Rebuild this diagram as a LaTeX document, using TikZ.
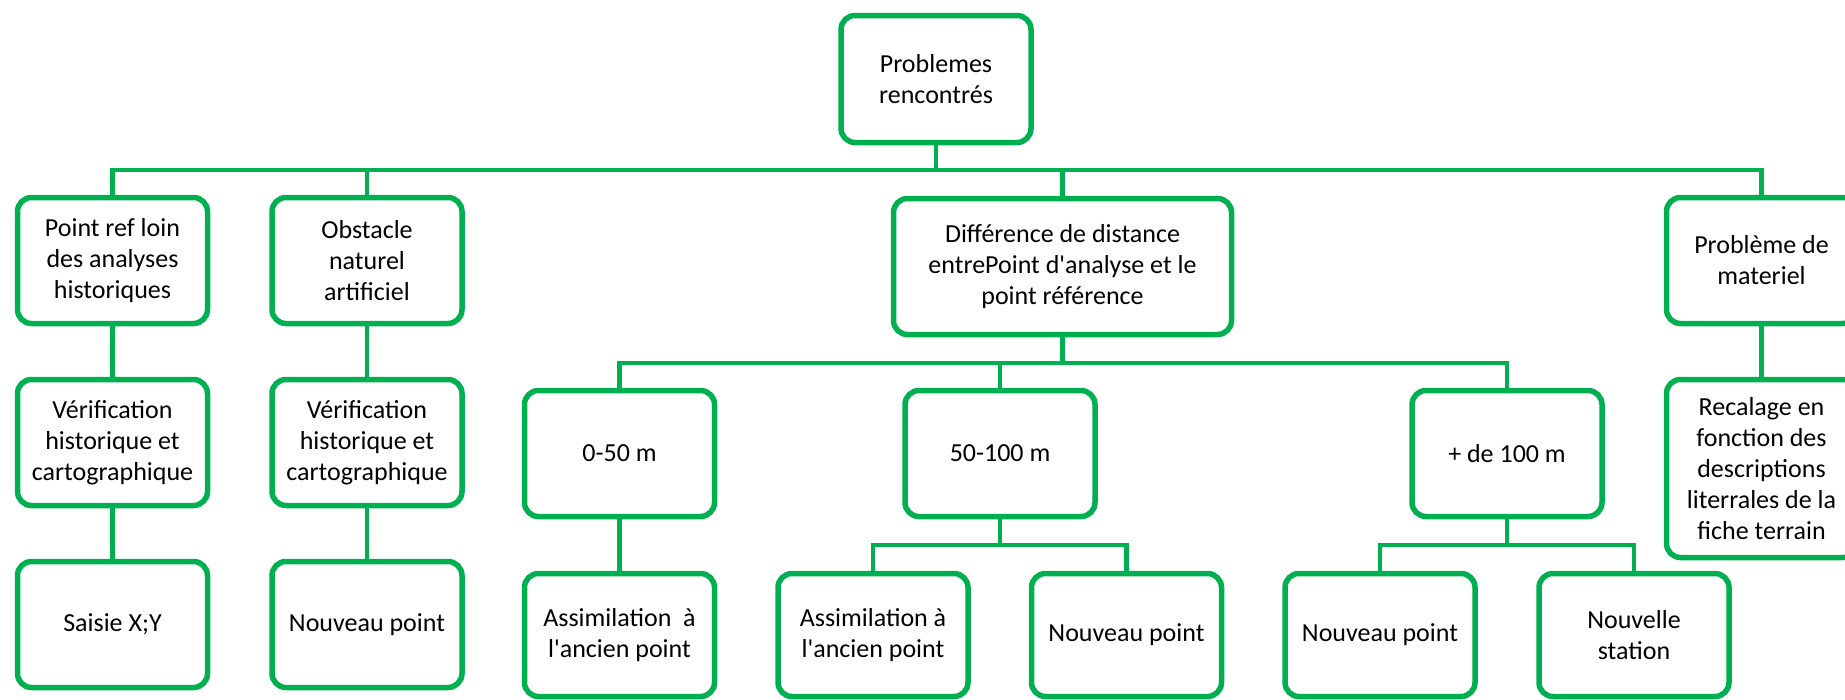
\documentclass[tikz,border=0pt]{standalone}
\usepackage{fontspec}
\setmainfont{Carlito}[Ligatures=TeXOff]
\definecolor{vert}{HTML}{00B050}
\tikzset{boite/.style={draw=vert, line width=5.5pt, rounded corners=14pt,
    minimum width=190pt, minimum height=126pt, align=center, inner sep=2pt,
    font=\fontsize{26}{31}\selectfont},
  lien/.style={vert, line width=4.5pt}}
\begin{document}
\begin{tikzpicture}[x=1pt, y=-1pt]
\useasboundingbox (0,0) rectangle (1845,699);

\node[boite, minimum height=127pt] (prob) at (936,79) {Problemes\\rencontrés};

\node[boite] (ref) at (112.5,260.5) {Point ref loin\\des analyses\\historiques};
\node[boite] (obst) at (367,260.5) {Obstacle\\naturel\\artificiel};
\node[boite, minimum width=338pt, minimum height=136pt] (diff) at (1062.5,266.5) {Différence de distance\\entrePoint d'analyse et le\\point référence};
\node[boite] (mat) at (1761.5,260.5) {Problème de\\materiel};

\node[boite] (verifA) at (112.5,442.5) {Vérification\\historique et\\cartographique};
\node[boite] (verifB) at (367,442.5) {Vérification\\historique et\\cartographique};
\node[boite] (saisie) at (112.5,624.5) {Saisie X;Y};
\node[boite] (nouvA) at (367,624.5) {Nouveau point};

\node[boite] (d050) at (619.5,453.5) {0-50 m};
\node[boite] (d50100) at (1000,453.5) {50-100 m};
\node[boite] (d100) at (1507,453.5) {+ de 100 m};

\node[boite, minimum height=123pt] (assimA) at (619.5,635) {Assimilation\ \ à\\l'ancien point};
\node[boite, minimum height=123pt] (assimB) at (873,635) {Assimilation à\\l'ancien point};
\node[boite, minimum height=123pt] (nouvB) at (1126.5,635) {Nouveau point};
\node[boite, minimum height=123pt] (nouvC) at (1380,635) {Nouveau point};
\node[boite, minimum height=123pt] (station) at (1634,635) {Nouvelle\\station};

\node[boite, minimum height=178pt] (recal) at (1761.5,468.5) {Recalage en\\fonction des\\descriptions\\literrales de la\\fiche terrain};

% liaisons
\coordinate (bus) at (936,170);
\coordinate (busD) at (1062.5,363);
\coordinate (busM) at (1000,545);
\coordinate (busP) at (1507,545);

\draw[lien] (prob) -- (bus);
\foreach \n in {ref,obst,diff,mat}
   \draw[lien] (bus) -| (\n.north);
\draw[lien] (diff) -- (busD);
\foreach \n in {d050,d50100,d100}
   \draw[lien] (busD) -| (\n.north);
\draw[lien] (d50100) -- (busM);
\foreach \n in {assimB,nouvB}
   \draw[lien] (busM) -| (\n.north);
\draw[lien] (d100) -- (busP);
\foreach \n in {nouvC,station}
   \draw[lien] (busP) -| (\n.north);
\draw[lien] (ref) -- (verifA);
\draw[lien] (verifA) -- (saisie);
\draw[lien] (obst) -- (verifB);
\draw[lien] (verifB) -- (nouvA);
\draw[lien] (d050) -- (assimA);
\draw[lien] (mat) -- (recal);
\end{tikzpicture}
\end{document}
